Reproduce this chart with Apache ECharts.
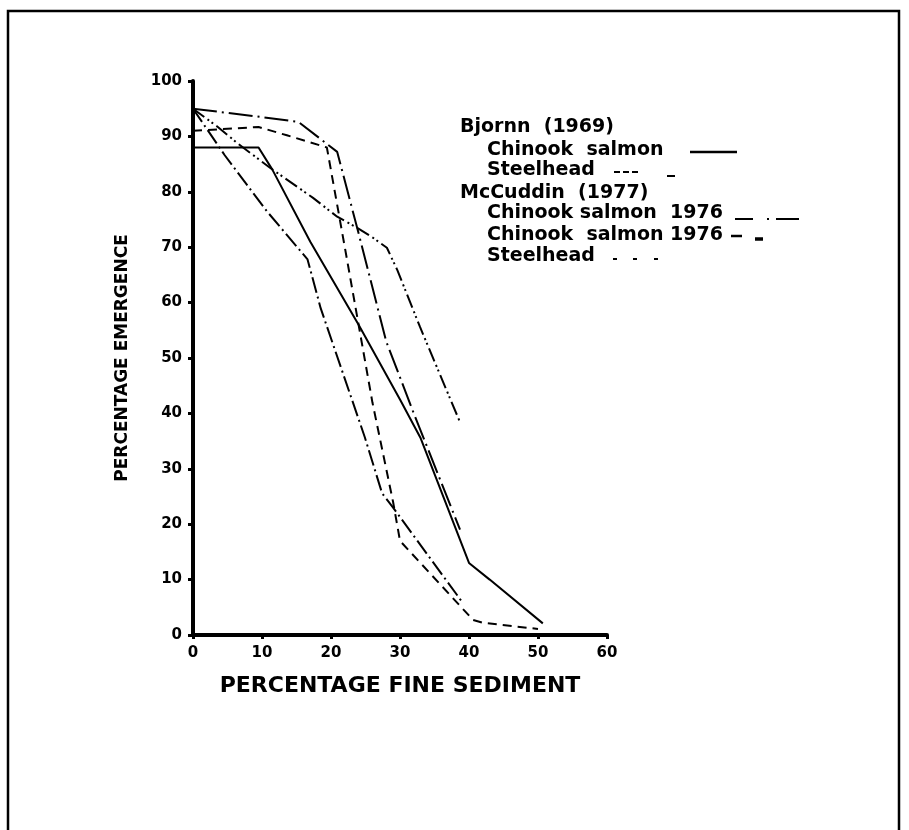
<!DOCTYPE html>
<html>
<head>
<meta charset="utf-8">
<script src="https://cdn.jsdelivr.net/npm/echarts@6/dist/echarts.min.js"></script>
<style>
html,body{margin:0;padding:0;background:#fff;}
#chart{width:909px;height:830px;}
</style>
</head>
<body>
<div id="chart"></div>
<script>
// ---- data ----
const xAxisTitle = 'PERCENTAGE FINE SEDIMENT';
const yAxisTitle = 'PERCENTAGE EMERGENCE';
const xMin = 0, xMax = 60, xStep = 10;
const yMin = 0, yMax = 100, yStep = 10;

const legendHeaders = ['Bjornn  (1969)', 'McCuddin  (1977)'];
const seriesNames = ['Chinook  salmon', 'Steelhead', 'Chinook salmon  1976', 'Chinook  salmon 1976', 'Steelhead'];

// Bjornn (1969) Chinook salmon (solid)
const bjChinookX = [0, 9.5, 11.5, 17, 24, 30, 33, 40, 43, 50.7];
const bjChinookY = [88, 88, 84, 71, 56, 42.5, 35.5, 13, 10, 2.1];
// Bjornn (1969) Steelhead (dashed)
const bjSteelX = [0, 9.5, 13.6, 19.4, 22, 24, 26, 29, 30, 40.6, 42, 50];
const bjSteelY = [91, 91.7, 90.2, 88, 70, 56, 42, 24, 17, 2.7, 2.2, 1.1];
// McCuddin (1977) Chinook salmon 1976 (long dash-dot)
const mcChinookAX = [0, 9.3, 15.3, 20.9, 24, 28, 32, 38.7];
const mcChinookAY = [95, 93.6, 92.6, 87.2, 72.5, 53, 40, 19];
// McCuddin (1977) Chinook salmon 1976 (dash)
const mcChinookBX = [0, 4.6, 10.7, 16.6, 18.5, 24.9, 27.4, 29, 39.1];
const mcChinookBY = [95, 86.6, 76.5, 67.8, 59, 35.7, 25.6, 23, 5.8];
// McCuddin (1977) Steelhead (dash-dot-dot)
const mcSteelX = [0, 3.6, 6.4, 11.2, 17.4, 20.9, 23.8, 26.1, 28.1, 29.6, 32.9, 38.7];
const mcSteelY = [95, 91.7, 88.8, 84.3, 78.9, 75.5, 73.5, 71.7, 69.9, 65.9, 55.6, 38.4];

const seriesX = [bjChinookX, bjSteelX, mcChinookAX, mcChinookBX, mcSteelX];
const seriesY = [bjChinookY, bjSteelY, mcChinookAY, mcChinookBY, mcSteelY];
const dashes = ['solid', [9, 6], [24, 5, 2, 5], [16, 4, 2, 4], [14, 4, 2, 3, 2, 4]];

// ---- chart ----
const chart = echarts.init(document.getElementById('chart'), null, {renderer: 'canvas'});
const FONT = '"DejaVu Sans", "Liberation Sans", sans-serif';

const series = seriesX.map((xs, i) => ({
  name: seriesNames[i] + ' ' + i,
  type: 'line',
  data: xs.map((x, j) => [x, seriesY[i][j]]),
  showSymbol: false,
  symbol: 'none',
  silent: true,
  clip: false,
  lineStyle: {color: '#000', width: 2, type: dashes[i]}
}));

const L = 460, L2 = 487;
const txt = (t, x, y) => ({
  type: 'text', x: x, y: y,
  style: {text: t, fill: '#000', font: 'bold 19px ' + FONT, verticalAlign: 'middle', textVerticalAlign: 'middle'}
});
const seg = (x1, y1, x2, y2, w) => ({
  type: 'line', shape: {x1: x1, y1: y1, x2: x2, y2: y2},
  style: {stroke: '#000', lineWidth: w || 2}
});

const graphics = [
  {type: 'rect', shape: {x: 8, y: 11, width: 891, height: 840}, style: {fill: 'none', stroke: '#000', lineWidth: 2.5}},
  txt(legendHeaders[0], L, 127),
  txt(seriesNames[0], L2, 150),
  seg(690, 152, 737, 152, 2.5),
  txt(seriesNames[1], L2, 170),
  seg(614, 172, 620, 172), seg(623, 172, 629, 172), seg(632, 172, 638, 172),
  seg(667, 176, 675, 176),
  txt(legendHeaders[1], L, 193),
  txt(seriesNames[2], L2, 213),
  seg(735, 219, 753, 219), seg(767, 219, 769, 219), seg(776, 219, 799, 219),
  txt(seriesNames[3], L2, 235),
  seg(731, 236, 742, 236, 2.5), seg(755, 239, 763, 239, 3.5),
  txt(seriesNames[4], L2, 256),
  seg(613, 259, 617, 259), seg(633, 259, 637, 259), seg(654, 259, 658, 259)
];

chart.setOption({
  animation: false,
  backgroundColor: '#fff',
  grid: {left: 193, right: 302, top: 81, bottom: 195, containLabel: false},
  xAxis: {
    type: 'value', min: xMin, max: xMax, interval: xStep,
    name: xAxisTitle, nameLocation: 'middle', nameGap: 40,
    nameTextStyle: {color: '#000', fontFamily: FONT, fontWeight: 'bold', fontSize: 22},
    axisLine: {show: true, onZero: false, lineStyle: {color: '#000', width: 4}},
    axisTick: {show: true, length: 4, inside: false, lineStyle: {color: '#000', width: 3}},
    axisLabel: {color: '#000', fontFamily: FONT, fontWeight: 'bold', fontSize: 15, margin: 11},
    splitLine: {show: false}
  },
  yAxis: {
    type: 'value', min: yMin, max: yMax, interval: yStep,
    name: yAxisTitle, nameLocation: 'middle', nameGap: 62, nameRotate: 90,
    nameTextStyle: {color: '#000', fontFamily: FONT, fontWeight: 'bold', fontSize: 17},
    axisLine: {show: true, onZero: false, lineStyle: {color: '#000', width: 4}},
    axisTick: {show: true, length: 5, inside: false, lineStyle: {color: '#000', width: 3}},
    axisLabel: {color: '#000', fontFamily: FONT, fontWeight: 'bold', fontSize: 15, margin: 11},
    splitLine: {show: false}
  },
  series: series,
  graphic: graphics
});
</script>
</body>
</html>
